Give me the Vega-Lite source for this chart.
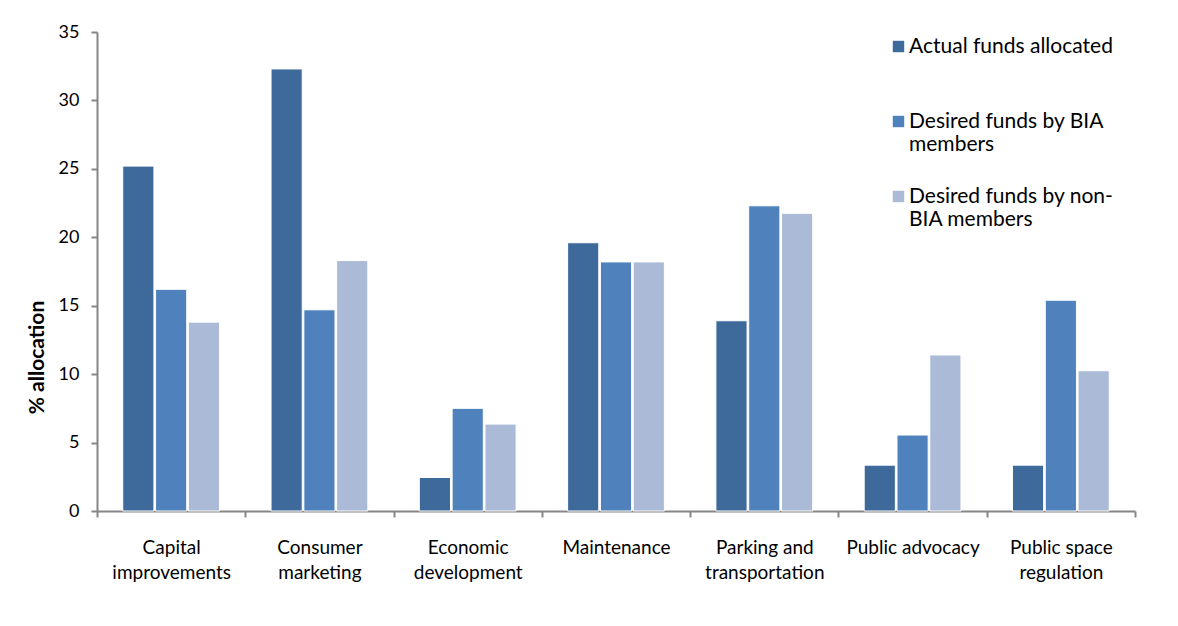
{
  "$schema": "https://vega.github.io/schema/vega-lite/v6.json",
  "width": 1038,
  "height": 479,
  "autosize": {"type": "none"},
  "padding": {"left": 97, "top": 32, "right": 43, "bottom": 115},
  "background": "white",
  "config": {
    "font": "Lato",
    "view": {"stroke": null}
  },
  "data": {
    "values": [
      {"cat": "Capital improvements", "series": "Actual funds allocated", "value": 25.2},
      {"cat": "Capital improvements", "series": "Desired funds by BIA members", "value": 16.2},
      {"cat": "Capital improvements", "series": "Desired funds by non-BIA members", "value": 13.8},
      {"cat": "Consumer marketing", "series": "Actual funds allocated", "value": 32.3},
      {"cat": "Consumer marketing", "series": "Desired funds by BIA members", "value": 14.7},
      {"cat": "Consumer marketing", "series": "Desired funds by non-BIA members", "value": 18.3},
      {"cat": "Economic development", "series": "Actual funds allocated", "value": 2.45},
      {"cat": "Economic development", "series": "Desired funds by BIA members", "value": 7.5},
      {"cat": "Economic development", "series": "Desired funds by non-BIA members", "value": 6.35},
      {"cat": "Maintenance", "series": "Actual funds allocated", "value": 19.6},
      {"cat": "Maintenance", "series": "Desired funds by BIA members", "value": 18.2},
      {"cat": "Maintenance", "series": "Desired funds by non-BIA members", "value": 18.2},
      {"cat": "Parking and transportation", "series": "Actual funds allocated", "value": 13.9},
      {"cat": "Parking and transportation", "series": "Desired funds by BIA members", "value": 22.3},
      {"cat": "Parking and transportation", "series": "Desired funds by non-BIA members", "value": 21.75},
      {"cat": "Public advocacy", "series": "Actual funds allocated", "value": 3.35},
      {"cat": "Public advocacy", "series": "Desired funds by BIA members", "value": 5.55},
      {"cat": "Public advocacy", "series": "Desired funds by non-BIA members", "value": 11.4},
      {"cat": "Public space regulation", "series": "Actual funds allocated", "value": 3.35},
      {"cat": "Public space regulation", "series": "Desired funds by BIA members", "value": 15.4},
      {"cat": "Public space regulation", "series": "Desired funds by non-BIA members", "value": 10.25}
    ]
  },
  "mark": {"type": "bar", "stroke": "white", "strokeWidth": 1},
  "encoding": {
    "x": {
      "field": "cat",
      "type": "nominal",
      "sort": null,
      "scale": {"paddingInner": 0, "paddingOuter": 0},
      "axis": {
        "title": null,
        "labelAngle": 0,
        "labelFontSize": 19,
        "labelColor": "black",
        "labelPadding": 21,
        "labelLineHeight": 25,
        "labelLimit": 200,
        "tickBand": "extent",
        "tickSize": 6,
        "tickColor": "#868686",
        "tickWidth": 2,
        "domainColor": "#868686",
        "domainWidth": 2,
        "labelExpr": "datum.value == 'Capital improvements' ? ['Capital', 'improvements'] : datum.value == 'Consumer marketing' ? ['Consumer', 'marketing'] : datum.value == 'Economic development' ? ['Economic', 'development'] : datum.value == 'Parking and transportation' ? ['Parking and', 'transportation'] : datum.value == 'Public space regulation' ? ['Public space', 'regulation'] : datum.value"
      }
    },
    "xOffset": {
      "field": "series",
      "type": "nominal",
      "sort": null,
      "scale": {"paddingInner": 0.05, "paddingOuter": 0.785}
    },
    "y": {
      "field": "value",
      "type": "quantitative",
      "scale": {"domain": [0, 35], "nice": false},
      "axis": {
        "title": "% allocation",
        "titleFontSize": 21,
        "titleFontWeight": "bold",
        "titleColor": "black",
        "titleX": -60,
        "titleY": 325,
        "titleAngle": -90,
        "titleAlign": "center",
        "titleBaseline": "middle",
        "values": [0, 5, 10, 15, 20, 25, 30, 35],
        "grid": false,
        "labelFontSize": 18,
        "labelColor": "black",
        "labelPadding": 12,
        "tickSize": 6,
        "tickColor": "#868686",
        "tickWidth": 2,
        "domainColor": "#868686",
        "domainWidth": 2
      }
    },
    "color": {
      "field": "series",
      "type": "nominal",
      "sort": null,
      "scale": {
        "domain": ["Actual funds allocated", "Desired funds by BIA members", "Desired funds by non-BIA members"],
        "range": ["#3E699B", "#4F81BD", "#AABAD7"]
      },
      "legend": {
        "title": null,
        "orient": "none",
        "legendX": 791,
        "legendY": 4,
        "symbolType": "square",
        "symbolSize": 130,
        "symbolStrokeWidth": 0,
        "labelFontSize": 21,
        "labelColor": "black",
        "labelOffset": 0,
        "labelLimit": 300,
        "rowPadding": 30,
        "labelExpr": "datum.value == 'Desired funds by BIA members' ? ['Desired funds by BIA', 'members'] : datum.value == 'Desired funds by non-BIA members' ? ['Desired funds by non-', 'BIA members'] : [datum.value, ' ']"
      }
    }
  }
}
